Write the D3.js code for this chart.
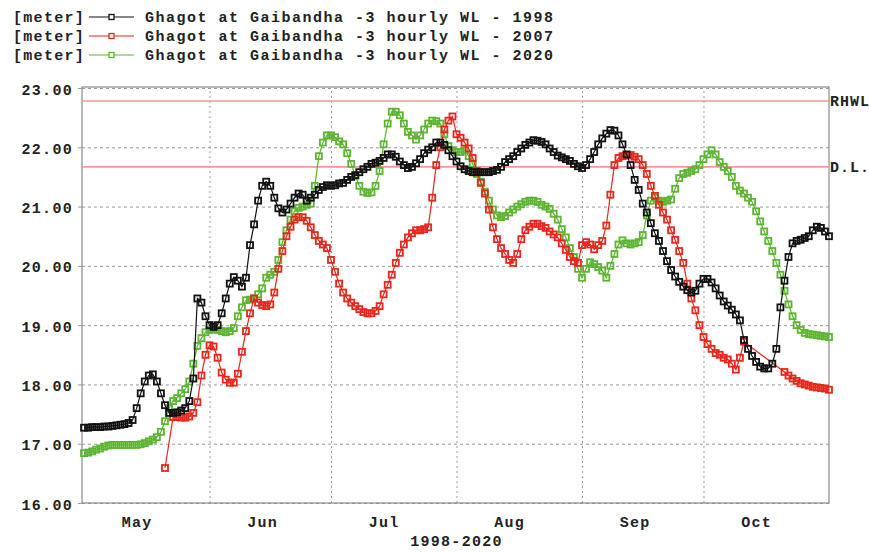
<!DOCTYPE html>
<html>
<head>
<meta charset="utf-8">
<script src="https://cdn.jsdelivr.net/npm/d3@7"></script>
<style>
  body { margin: 0; background: #fff; }
  text { font-family: "Liberation Mono", "Courier New", monospace; font-weight: bold; fill: #222; }
</style>
</head>
<body>
<div class="container"></div>
<script>
// daily readings, May 1 .. Nov 1 (null = no data)
const black1998 = [
  17.27,17.27,17.28,17.28,17.28,17.29,17.29,17.30,17.31,17.32,
  17.33,17.35,17.40,17.60,17.85,18.05,18.15,18.17,18.05,17.85,
  17.65,17.52,17.52,17.53,17.56,17.60,17.72,18.10,19.45,19.38,
  19.15,19.00,18.97,19.00,19.20,19.45,19.70,19.81,19.75,19.65,
  19.80,20.35,20.70,21.10,21.35,21.42,21.35,21.15,20.97,20.90,
  20.95,21.05,21.15,21.22,21.20,21.10,21.15,21.20,21.28,21.33,
  21.36,21.35,21.36,21.39,21.40,21.45,21.50,21.53,21.58,21.63,
  21.67,21.72,21.74,21.77,21.82,21.88,21.88,21.84,21.76,21.70,
  21.65,21.67,21.73,21.80,21.90,21.96,22.00,22.08,22.08,22.04,
  21.95,21.85,21.76,21.68,21.63,21.60,21.58,21.58,21.58,21.58,
  21.58,21.60,21.62,21.67,21.75,21.80,21.85,21.92,21.98,22.04,
  22.08,22.12,22.11,22.09,22.05,21.98,21.92,21.86,21.83,21.80,
  21.77,21.72,21.68,21.65,21.70,21.80,21.92,22.05,22.15,22.23,
  22.29,22.28,22.20,22.05,21.88,21.70,21.45,21.28,21.05,20.90,
  20.72,20.55,20.42,20.25,20.08,19.93,19.82,19.73,19.65,19.59,
  19.55,19.58,19.70,19.78,19.78,19.72,19.62,19.50,19.40,19.33,
  19.26,19.18,19.08,18.75,18.60,18.48,18.38,18.30,18.27,18.27,
  18.35,18.60,19.30,19.75,20.15,20.38,20.42,20.44,20.47,20.50,
  20.60,20.66,20.64,20.58,20.50
];
const red2007 = [
  null,null,null,null,null,null,null,null,null,null,
  null,null,null,null,null,null,null,null,null,null,
  16.59,null,17.45,17.45,17.44,17.44,17.46,17.52,17.70,18.15,
  18.50,18.66,18.64,18.45,18.20,18.08,18.03,18.03,18.18,18.55,
  18.90,19.20,19.45,19.38,19.34,19.32,19.35,19.55,19.95,20.25,
  20.50,20.66,20.78,20.82,20.82,20.76,20.65,20.52,20.42,20.36,
  20.30,20.10,19.90,19.70,19.55,19.45,19.38,19.32,19.27,19.22,
  19.20,19.20,19.24,19.32,19.52,19.68,19.85,20.05,20.22,20.36,
  20.48,20.55,20.60,20.60,20.62,20.65,21.15,21.70,22.00,22.30,
  22.45,22.52,22.22,22.16,22.08,21.98,21.82,21.60,21.40,21.22,
  20.95,20.65,20.45,20.30,20.20,20.10,20.05,20.20,20.45,20.60,
  20.66,20.71,20.71,20.67,20.64,20.58,20.53,20.48,20.38,20.27,
  20.15,20.08,20.05,20.35,20.40,20.36,20.28,20.35,20.42,20.68,
  21.20,21.70,21.82,21.85,21.86,21.87,21.84,21.80,21.70,21.55,
  21.35,21.18,21.03,20.90,20.78,20.60,20.44,20.25,20.05,19.70,
  19.45,19.25,19.00,18.80,18.68,18.60,18.53,18.50,18.45,18.42,
  18.35,18.25,18.45,18.72,null,null,null,null,null,null,
  null,null,null,18.21,18.15,18.10,18.06,18.02,18.00,17.98,
  17.96,17.95,17.94,17.93,17.91
];
const green2020 = [
  16.84,16.85,16.87,16.90,16.92,16.95,16.97,16.98,16.98,16.98,
  16.98,16.98,16.98,16.98,16.99,17.01,17.04,17.07,17.11,17.20,
  17.38,17.60,17.72,17.77,17.85,17.92,18.05,18.35,18.65,18.78,
  18.88,18.92,18.93,18.92,18.90,18.88,18.90,18.95,19.15,19.30,
  19.42,19.43,19.45,19.52,19.62,19.80,19.85,19.90,20.10,20.40,
  20.60,20.78,20.92,20.98,21.00,21.03,21.05,21.35,21.85,22.08,
  22.20,22.20,22.17,22.10,22.05,21.90,21.72,21.52,21.35,21.25,
  21.23,21.24,21.35,21.60,22.05,22.40,22.60,22.60,22.54,22.40,
  22.26,22.20,22.13,22.20,22.30,22.40,22.45,22.44,22.40,22.22,
  22.02,21.95,21.92,21.92,21.95,21.85,21.72,21.55,21.42,21.25,
  21.10,20.95,20.85,20.82,20.84,20.90,20.95,21.00,21.04,21.08,
  21.10,21.10,21.08,21.03,21.00,20.96,20.88,20.78,20.62,20.48,
  20.30,20.15,19.95,19.80,19.95,20.06,20.03,19.98,19.92,19.80,
  20.00,20.20,20.36,20.43,20.38,20.36,20.38,20.40,20.52,20.85,
  21.10,21.15,21.10,21.08,21.10,21.12,21.30,21.48,21.55,21.57,
  21.60,21.63,21.70,21.80,21.88,21.95,21.88,21.75,21.67,21.60,
  21.50,21.35,21.27,21.22,21.15,21.08,20.92,20.75,20.58,20.42,
  20.25,20.05,19.85,19.58,19.35,19.15,19.00,18.92,18.87,18.85,
  18.84,18.83,18.82,18.81,18.80
];

const seriesNames = ["Ghagot at Gaibandha -3 hourly WL - 1998",
                     "Ghagot at Gaibandha -3 hourly WL - 2007",
                     "Ghagot at Gaibandha -3 hourly WL - 2020"];
const seriesColors = ["#111111", "#e8261c", "#5cb531"];
const monthLabels = ["May", "Jun", "Jul", "Aug", "Sep", "Oct"];
const yTicks = [16, 17, 18, 19, 20, 21, 22, 23];
const refLevels = [22.78, 21.67];
const refNames = ["RHWL", "D.L."];
const xTitle = "1998-2020";

const width = 869, height = 552;
const plotLeft = 82, plotRight = 829, plotTop = 88, plotBottom = 503;

const svg = d3.select(".container").append("svg")
    .attr("width", width)
    .attr("height", height)

const start = new Date(2001, 4, 1)
const xScale = d3.scaleTime()
    .domain([new Date(2001, 3, 30, 12), new Date(2001, 10, 1)])
    .range([plotLeft, plotRight])
const yScale = d3.scaleLinear()
    .domain([16, 23])
    .range([plotBottom, plotTop])

const dayOf = i => d3.timeDay.offset(start, i)

// grid
const monthStarts = d3.timeMonth.range(new Date(2001, 5, 1), new Date(2001, 9, 2))
svg.append("g")
    .attr("transform", `translate(0,${plotBottom})`)
    .call(d3.axisBottom(xScale).tickValues(monthStarts).tickSize(-(plotBottom - plotTop)).tickFormat(""))
    .call(g => g.select(".domain").remove())
    .call(g => g.selectAll("line").attr("stroke", "#9a9a9a").attr("stroke-dasharray", "2,3"))

svg.append("g")
    .attr("transform", `translate(${plotLeft},0)`)
    .call(d3.axisLeft(yScale).tickValues(yTicks).tickSize(-(plotRight - plotLeft)).tickFormat(""))
    .call(g => g.select(".domain").remove())
    .call(g => g.selectAll("line").attr("stroke", "#9a9a9a").attr("stroke-dasharray", "3,3"))

// frame
svg.append("rect")
    .attr("x", plotLeft).attr("y", plotTop - 1)
    .attr("width", plotRight - plotLeft).attr("height", plotBottom - plotTop + 1)
    .attr("fill", "none").attr("stroke", "#8a8a8a").attr("stroke-width", 1.2)

// reference levels
svg.selectAll(".ref")
    .data(refLevels)
    .enter()
    .append("line")
    .attr("class", "ref")
    .attr("x1", plotLeft).attr("x2", plotRight)
    .attr("y1", d => yScale(d)).attr("y2", d => yScale(d))
    .attr("stroke", "#f29a94").attr("stroke-width", 1.6)

svg.selectAll(".refname")
    .data(refLevels)
    .enter()
    .append("text")
    .attr("class", "refname")
    .attr("x", plotRight + 1)
    .attr("y", d => yScale(d))
    .attr("dy", "0.35em")
    .style("font-size", "15px")
    .style("letter-spacing", "1px")
    .text((d, i) => refNames[i])

// y axis labels
const yAxis = d3.axisLeft(yScale).tickValues(yTicks).tickSize(4).tickFormat(d3.format(".2f"))
svg.append("g")
    .attr("transform", `translate(${plotLeft},0)`)
    .call(yAxis)
    .call(g => g.select(".domain").remove())
    .call(g => g.selectAll("line").attr("stroke", "#999"))
    .call(g => g.selectAll("text")
        .attr("x", -9)
        .attr("dy", "0.4em")
        .style("font-size", "15px")
        .style("letter-spacing", "1.3px")
        .style("font-family", null))

// x axis labels (mid-month)
const xAxis = d3.axisBottom(xScale)
    .tickValues(monthLabels.map((m, i) => new Date(2001, 4 + i, 14)))
    .tickSize(0)
    .tickFormat((d, i) => monthLabels[i])
svg.append("g")
    .attr("transform", `translate(0,${plotBottom})`)
    .call(xAxis)
    .call(g => g.select(".domain").remove())
    .call(g => g.selectAll("text")
        .attr("y", 13)
        .style("font-size", "15px")
        .style("letter-spacing", "1.3px")
        .style("font-family", null))

svg.append("text")
    .attr("x", (plotLeft + plotRight) / 2 + 1)
    .attr("y", 546)
    .attr("text-anchor", "middle")
    .style("font-size", "15px")
    .style("letter-spacing", "1.3px")
    .text(xTitle)

// series
const allSeries = [black1998, red2007, green2020]
const drawOrder = [2, 1, 0]
const line = d3.line()
    .x(d => xScale(d.t))
    .y(d => yScale(d.v))

drawOrder.forEach(k => {
    const pts = allSeries[k].map((v, i) => ({ t: dayOf(i), v: v }))
    const present = pts.filter(d => d.v !== null)
    const g = svg.append("g")
    g.append("path")
        .datum(present)
        .attr("d", line)
        .attr("fill", "none")
        .attr("stroke", seriesColors[k])
        .attr("stroke-width", 1.2)
    g.selectAll("rect")
        .data(present)
        .enter()
        .append("rect")
        .attr("x", d => xScale(d.t) - 3)
        .attr("y", d => yScale(d.v) - 3)
        .attr("width", 6)
        .attr("height", 6)
        .attr("fill", "none")
        .attr("stroke", seriesColors[k])
        .attr("stroke-width", 1.8)
})

// legend
const legend = svg.append("g")
seriesNames.forEach((name, i) => {
    const y = 17 + i * 19
    legend.append("text")
        .attr("x", 13).attr("y", y).attr("dy", "0.35em")
        .style("font-size", "15px").style("letter-spacing", "1.3px")
        .text("[meter]")
    legend.append("line")
        .attr("x1", 89).attr("x2", 134)
        .attr("y1", y).attr("y2", y)
        .attr("stroke", seriesColors[i]).attr("stroke-width", 1.2)
    legend.append("rect")
        .attr("x", 109).attr("y", y - 2.5)
        .attr("width", 5).attr("height", 5)
        .attr("fill", "#fff")
        .attr("stroke", seriesColors[i]).attr("stroke-width", 1.3)
    legend.append("text")
        .attr("x", 145).attr("y", y).attr("dy", "0.35em")
        .style("font-size", "15px").style("letter-spacing", "1.5px")
        .text(name)
})
</script>
</body>
</html>
